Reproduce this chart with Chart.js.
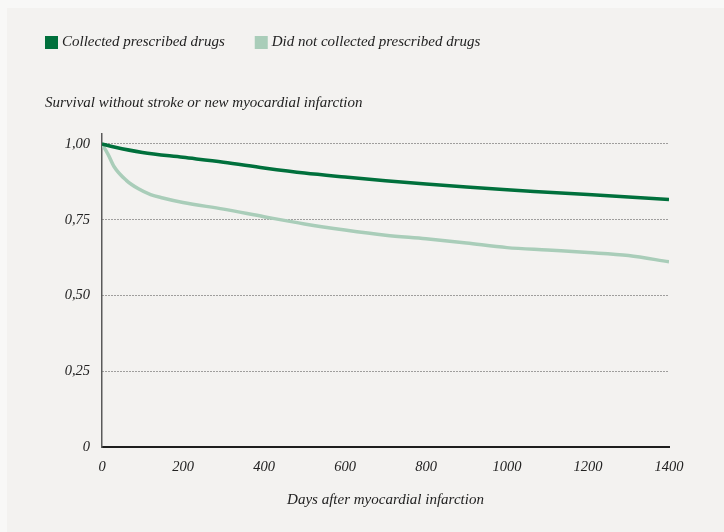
<!DOCTYPE html>
<html>
<head>
  <title>Survival without stroke or new myocardial infarction</title>
  <script src="https://cdn.jsdelivr.net/npm/chart.js"></script>
  <style>
    html, body { margin: 0; padding: 0; background: #f8f8f7; }
    #panel { position: absolute; left: 7px; top: 8px; right: 0; bottom: 0; background: #f3f2f0; }
    #wrap { position: absolute; left: 0; top: 0; width: 724px; height: 532px; }
  </style>
</head>
<body>
  <div id="panel"></div>
  <div id="wrap"><canvas id="survivalChart" width="724" height="532"></canvas></div>
  <script>
    // data
    var seriesNames = ['Collected prescribed drugs', 'Did not collected prescribed drugs'];
    var daysCollected = [0, 30, 100, 200, 300, 400, 500, 600, 700, 800, 900, 1000, 1100, 1200, 1300, 1400];
    var survivalCollected = [1.0, 0.99, 0.972, 0.956, 0.94, 0.921, 0.904, 0.891, 0.879, 0.868, 0.858, 0.849, 0.841, 0.833, 0.825, 0.817];
    var daysNotCollected = [0, 15, 30, 60, 90, 120, 150, 200, 300, 400, 500, 600, 700, 800, 900, 1000, 1100, 1200, 1300, 1400];
    var survivalNotCollected = [1.0, 0.966, 0.925, 0.88, 0.852, 0.833, 0.822, 0.807, 0.785, 0.76, 0.736, 0.716, 0.699, 0.687, 0.673, 0.658, 0.65, 0.642, 0.632, 0.611];
    var xTickLabels = ['0', '200', '400', '600', '800', '1000', '1200', '1400'];
    var yTickLabels = ['0', '0,25', '0,50', '0,75', '1,00'];

    var darkGreen = '#00703c';
    var lightGreen = '#a9cdb9';
    var textColor = '#222222';
    var fontFamily = '"Liberation Serif", "DejaVu Serif", serif';

    function toPoints(xs, ys) {
      return xs.map(function (x, i) { return { x: x, y: ys[i] }; });
    }

    // legend drawn by hand so it can sit at the left edge like the original
    var legendPlugin = {
      id: 'topLegend',
      afterDraw: function (chart) {
        var ctx = chart.ctx;
        var x = 45, y = 36, box = 13;
        ctx.save();
        ctx.font = 'italic 15px ' + fontFamily;
        ctx.textBaseline = 'middle';
        chart.data.datasets.forEach(function (ds) {
          ctx.fillStyle = ds.borderColor;
          ctx.fillRect(x, y, box, box);
          ctx.fillStyle = textColor;
          ctx.fillText(ds.label, x + box + 4, y + box / 2);
          x += box + 4 + ctx.measureText(ds.label).width + 30;
        });
        ctx.restore();
      }
    };

    var ctx = document.getElementById('survivalChart').getContext('2d');
    var chart = new Chart(ctx, {
      type: 'line',
      data: {
        datasets: [{
          label: seriesNames[0],
          data: toPoints(daysCollected, survivalCollected),
          borderColor: darkGreen,
          backgroundColor: darkGreen,
          borderWidth: 3.5,
          pointRadius: 0,
          cubicInterpolationMode: 'monotone',
          fill: false
        }, {
          label: seriesNames[1],
          data: toPoints(daysNotCollected, survivalNotCollected),
          borderColor: lightGreen,
          backgroundColor: lightGreen,
          borderWidth: 3.5,
          pointRadius: 0,
          cubicInterpolationMode: 'monotone',
          fill: false
        }]
      },
      options: {
        responsive: false,
        animation: false,
        layout: { padding: { left: 45, top: 0, right: 55, bottom: 0 } },
        plugins: {
          legend: { display: false },
          tooltip: { enabled: false },
          title: {
            display: true,
            text: 'Survival without stroke or new myocardial infarction',
            align: 'start',
            color: textColor,
            font: { family: fontFamily, size: 15, style: 'italic', weight: 'normal' },
            padding: { top: 94, bottom: 22 }
          }
        },
        scales: {
          x: {
            type: 'linear',
            min: 0,
            max: 1400,
            afterFit: function (scale) { scale.height = 85; },
            grid: { display: false, drawTicks: false },
            border: { display: true, color: '#1e1e1e', width: 2 },
            ticks: {
              stepSize: 200,
              padding: 11,
              color: textColor,
              maxRotation: 0,
              font: { family: fontFamily, size: 14.5, style: 'italic' },
              callback: function (v) { return xTickLabels[Math.round(v / 200)]; }
            },
            title: {
              display: true,
              text: 'Days after myocardial infarction',
              color: textColor,
              font: { family: fontFamily, size: 15, style: 'italic' },
              padding: { top: 0, bottom: 23 }
            }
          },
          y: {
            min: 0,
            max: 1.033,
            afterFit: function (scale) { scale.width = 57; },
            grid: {
              drawTicks: false,
              color: '#4a4a4a',
              lineWidth: 1
            },
            border: { display: true, color: '#5a5a5a', width: 1.5, dash: [1, 2] },
            ticks: {
              stepSize: 0.25,
              includeBounds: false,
              padding: 12,
              color: textColor,
              font: { family: fontFamily, size: 14.5, style: 'italic' },
              callback: function (v) { return yTickLabels[Math.round(v * 4)]; }
            }
          }
        }
      },
      plugins: [legendPlugin]
    });
  </script>
</body>
</html>
